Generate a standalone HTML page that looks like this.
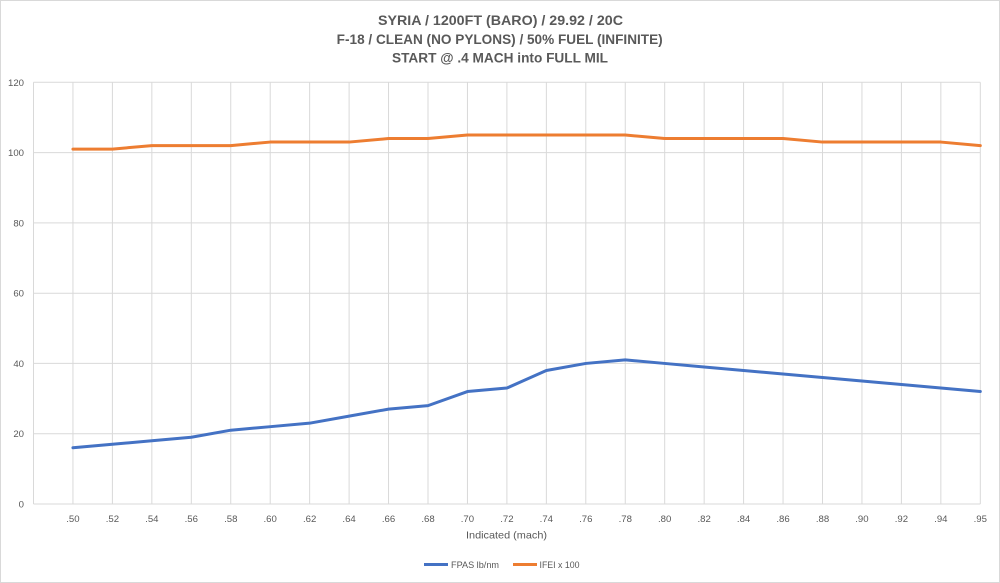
<!DOCTYPE html>
<html>
<head>
<meta charset="utf-8">
<style>
  html,body{margin:0;padding:0;background:#fff;}
  svg{display:block;}
  text{font-family:"Liberation Sans",Arial,sans-serif;fill:#595959;}
</style>
</head>
<body>
<svg width="1000" height="583" viewBox="0 0 1000 583" xmlns="http://www.w3.org/2000/svg">
  <rect x="0.5" y="0.5" width="999" height="582" fill="#fff" stroke="#d9d9d9" stroke-width="1"/>

  <!-- Title -->
  <text x="500.5" y="25" text-anchor="middle" font-size="13.5" font-weight="bold" textLength="245" lengthAdjust="spacingAndGlyphs">SYRIA / 1200FT (BARO) / 29.92 / 20C</text>
  <text x="499.7" y="44" text-anchor="middle" font-size="13.5" font-weight="bold" textLength="326" lengthAdjust="spacingAndGlyphs">F-18 / CLEAN (NO PYLONS) / 50% FUEL (INFINITE)</text>
  <text x="500" y="62.5" text-anchor="middle" font-size="13.5" font-weight="bold" textLength="216" lengthAdjust="spacingAndGlyphs">START @ .4 MACH into FULL MIL</text>

  <!-- Horizontal gridlines -->
  <g stroke="#d9d9d9" stroke-width="1">
    <line x1="33.5" y1="82.3" x2="980.3" y2="82.3"/>
    <line x1="33.5" y1="152.6" x2="980.3" y2="152.6"/>
    <line x1="33.5" y1="222.9" x2="980.3" y2="222.9"/>
    <line x1="33.5" y1="293.2" x2="980.3" y2="293.2"/>
    <line x1="33.5" y1="363.4" x2="980.3" y2="363.4"/>
    <line x1="33.5" y1="433.7" x2="980.3" y2="433.7"/>
    <line x1="33.5" y1="504" x2="980.3" y2="504"/>
  </g>
  <!-- Vertical gridlines -->
  <g stroke="#d9d9d9" stroke-width="1">
    <line x1="33.5" y1="82.3" x2="33.5" y2="504"/>
    <line x1="72.95" y1="82.3" x2="72.95" y2="504"/>
    <line x1="112.4" y1="82.3" x2="112.4" y2="504"/>
    <line x1="151.85" y1="82.3" x2="151.85" y2="504"/>
    <line x1="191.3" y1="82.3" x2="191.3" y2="504"/>
    <line x1="230.75" y1="82.3" x2="230.75" y2="504"/>
    <line x1="270.2" y1="82.3" x2="270.2" y2="504"/>
    <line x1="309.65" y1="82.3" x2="309.65" y2="504"/>
    <line x1="349.1" y1="82.3" x2="349.1" y2="504"/>
    <line x1="388.55" y1="82.3" x2="388.55" y2="504"/>
    <line x1="428" y1="82.3" x2="428" y2="504"/>
    <line x1="467.45" y1="82.3" x2="467.45" y2="504"/>
    <line x1="506.9" y1="82.3" x2="506.9" y2="504"/>
    <line x1="546.35" y1="82.3" x2="546.35" y2="504"/>
    <line x1="585.8" y1="82.3" x2="585.8" y2="504"/>
    <line x1="625.25" y1="82.3" x2="625.25" y2="504"/>
    <line x1="664.7" y1="82.3" x2="664.7" y2="504"/>
    <line x1="704.15" y1="82.3" x2="704.15" y2="504"/>
    <line x1="743.6" y1="82.3" x2="743.6" y2="504"/>
    <line x1="783.05" y1="82.3" x2="783.05" y2="504"/>
    <line x1="822.5" y1="82.3" x2="822.5" y2="504"/>
    <line x1="861.95" y1="82.3" x2="861.95" y2="504"/>
    <line x1="901.4" y1="82.3" x2="901.4" y2="504"/>
    <line x1="940.85" y1="82.3" x2="940.85" y2="504"/>
    <line x1="980.3" y1="82.3" x2="980.3" y2="504"/>
  </g>

  <!-- Y axis labels -->
  <g font-size="9.6" text-anchor="end">
    <text x="24" y="85.8">120</text>
    <text x="24" y="156.1">100</text>
    <text x="24" y="226.4">80</text>
    <text x="24" y="296.7">60</text>
    <text x="24" y="366.9">40</text>
    <text x="24" y="437.2">20</text>
    <text x="24" y="507.5">0</text>
  </g>

  <!-- X axis labels -->
  <g font-size="9.6" text-anchor="middle">
    <text x="72.95" y="522">.50</text>
    <text x="112.4" y="522">.52</text>
    <text x="151.85" y="522">.54</text>
    <text x="191.3" y="522">.56</text>
    <text x="230.75" y="522">.58</text>
    <text x="270.2" y="522">.60</text>
    <text x="309.65" y="522">.62</text>
    <text x="349.1" y="522">.64</text>
    <text x="388.55" y="522">.66</text>
    <text x="428" y="522">.68</text>
    <text x="467.45" y="522">.70</text>
    <text x="506.9" y="522">.72</text>
    <text x="546.35" y="522">.74</text>
    <text x="585.8" y="522">.76</text>
    <text x="625.25" y="522">.78</text>
    <text x="664.7" y="522">.80</text>
    <text x="704.15" y="522">.82</text>
    <text x="743.6" y="522">.84</text>
    <text x="783.05" y="522">.86</text>
    <text x="822.5" y="522">.88</text>
    <text x="861.95" y="522">.90</text>
    <text x="901.4" y="522">.92</text>
    <text x="940.85" y="522">.94</text>
    <text x="980.3" y="522">.95</text>
  </g>

  <!-- Axis title -->
  <text x="506.5" y="538.5" text-anchor="middle" font-size="10.2" textLength="81" lengthAdjust="spacingAndGlyphs">Indicated (mach)</text>

  <!-- Series: IFEI x 100 (orange) -->
  <polyline fill="none" stroke="#ED7D31" stroke-width="3" stroke-linejoin="round" stroke-linecap="round"
    points="72.95,149.09 112.4,149.09 151.85,145.57 191.3,145.57 230.75,145.57 270.2,142.06 309.65,142.06 349.1,142.06 388.55,138.54 428,138.54 467.45,135.03 506.9,135.03 546.35,135.03 585.8,135.03 625.25,135.03 664.7,138.54 704.15,138.54 743.6,138.54 783.05,138.54 822.5,142.06 861.95,142.06 901.4,142.06 940.85,142.06 980.3,145.57"/>

  <!-- Series: FPAS lb/nm (blue) -->
  <polyline fill="none" stroke="#4472C4" stroke-width="3" stroke-linejoin="round" stroke-linecap="round"
    points="72.95,447.78 112.4,444.26 151.85,440.75 191.3,437.23 230.75,430.21 270.2,426.69 309.65,423.18 349.1,416.15 388.55,409.12 428,405.61 467.45,391.55 506.9,388.04 546.35,370.47 585.8,363.44 625.25,359.93 664.7,363.44 704.15,366.95 743.6,370.47 783.05,373.98 822.5,377.5 861.95,381.01 901.4,384.52 940.85,388.04 980.3,391.55"/>

  <!-- Legend -->
  <line x1="424" y1="564.5" x2="448" y2="564.5" stroke="#4472C4" stroke-width="3"/>
  <text x="451" y="567.8" font-size="9.3" textLength="48" lengthAdjust="spacingAndGlyphs">FPAS lb/nm</text>
  <line x1="513" y1="564.5" x2="537" y2="564.5" stroke="#ED7D31" stroke-width="3"/>
  <text x="539.5" y="567.8" font-size="9.3" textLength="40" lengthAdjust="spacingAndGlyphs">IFEI x 100</text>
</svg>
</body>
</html>
